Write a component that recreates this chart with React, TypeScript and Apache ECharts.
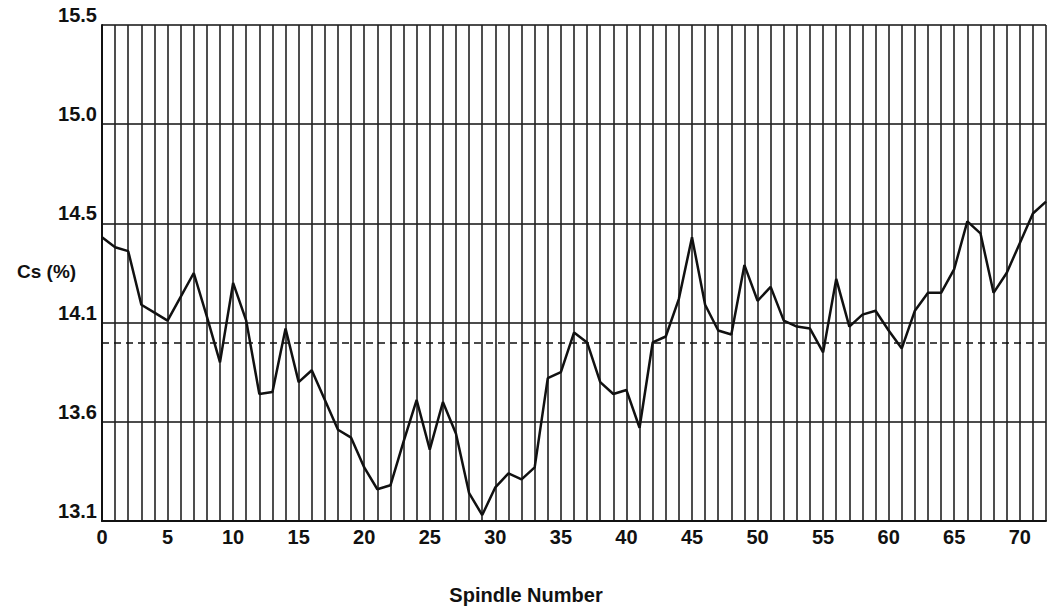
import React, { useEffect, useRef } from "react";
import * as echarts from "echarts";

// Cs (%) read for spindle numbers 0..72
const spindleNumbers: number[] = [
  0, 1, 2, 3, 4, 5, 6, 7, 8, 9, 10, 11, 12, 13, 14, 15, 16, 17, 18, 19, 20, 21, 22, 23, 24,
  25, 26, 27, 28, 29, 30, 31, 32, 33, 34, 35, 36, 37, 38, 39, 40, 41, 42, 43, 44, 45, 46, 47,
  48, 49, 50, 51, 52, 53, 54, 55, 56, 57, 58, 59, 60, 61, 62, 63, 64, 65, 66, 67, 68, 69, 70,
  71, 72,
];
const csValues: number[] = [
  14.43, 14.38, 14.36, 14.09, 14.05, 14.01, 14.13, 14.25, 14.03, 13.8, 14.2, 14.01, 13.64,
  13.65, 13.97, 13.7, 13.76, 13.61, 13.46, 13.42, 13.27, 13.16, 13.18, 13.4, 13.61, 13.36,
  13.6, 13.44, 13.14, 13.03, 13.17, 13.24, 13.21, 13.27, 13.72, 13.75, 13.95, 13.9, 13.7,
  13.64, 13.66, 13.47, 13.9, 13.93, 14.12, 14.43, 14.09, 13.96, 13.94, 14.29, 14.11, 14.18,
  14.01, 13.98, 13.97, 13.85, 14.22, 13.98, 14.04, 14.06, 13.96, 13.87, 14.06, 14.15, 14.15,
  14.27, 14.51, 14.45, 14.15, 14.25, 14.4, 14.55, 14.61,
];
const meanValue = 13.9;
const yTickValues: number[] = [13.0, 13.5, 14.0, 14.5, 15.0, 15.5];
const yTickLabels: string[] = ["13.1", "13.6", "14.1", "14.5", "15.0", "15.5"];

const FONT = "'Liberation Sans', Arial, Helvetica, sans-serif";

export default function App() {
  const ref = useRef<HTMLDivElement>(null);
  useEffect(() => {
    if (!ref.current) return;
    const chart = echarts.init(ref.current, undefined, { renderer: "svg" });
    const data = spindleNumbers.map((s, i) => [s, csValues[i]]);
    chart.setOption({
      animation: false,
      backgroundColor: "#ffffff",
      grid: { left: 102, right: 3, top: 25, bottom: 87, containLabel: false },
      xAxis: {
        type: "value",
        min: 0,
        max: 72,
        interval: 1,
        axisLine: { show: true, lineStyle: { color: "#111", width: 2 } },
        axisTick: { show: false },
        splitLine: { show: true, lineStyle: { color: "#222", width: 1.6 } },
        axisLabel: {
          color: "#111",
          fontSize: 20,
          fontWeight: "bold",
          fontFamily: FONT,
          margin: 6,
          showMaxLabel: false,
          formatter: (v: number) => (v % 5 === 0 ? String(v) : ""),
        },
      },
      yAxis: {
        type: "value",
        min: yTickValues[0],
        max: yTickValues[yTickValues.length - 1],
        interval: 0.5,
        axisLine: { show: true, lineStyle: { color: "#111", width: 2 } },
        axisTick: { show: false },
        splitLine: { show: true, lineStyle: { color: "#111", width: 1.6 } },
        axisLabel: {
          color: "#111",
          fontSize: 20,
          fontWeight: "bold",
          fontFamily: FONT,
          margin: 5,
          verticalAlign: "bottom",
          formatter: (v: number) => {
            const idx = yTickValues.findIndex((t) => Math.abs(t - v) < 1e-6);
            return idx >= 0 ? yTickLabels[idx] : "";
          },
        },
      },
      graphic: [
        {
          type: "text",
          x: 17,
          y: 271,
          style: {
            text: "Cs (%)",
            fontSize: 19,
            fontWeight: "bold",
            fontFamily: FONT,
            fill: "#111",
            textVerticalAlign: "middle",
            textAlign: "left",
          },
        },
        {
          type: "text",
          x: 526,
          y: 595,
          style: {
            text: "Spindle Number",
            fontSize: 20,
            fontWeight: "bold",
            fontFamily: FONT,
            fill: "#111",
            textVerticalAlign: "middle",
            textAlign: "center",
          },
        },
      ],
      series: [
        {
          type: "line",
          data,
          symbol: "none",
          lineStyle: { color: "#111", width: 2.5 },
          z: 5,
          markLine: {
            silent: true,
            symbol: ["none", "none"],
            label: { show: false },
            lineStyle: { color: "#111", width: 1.6, type: [7, 5] },
            data: [{ yAxis: meanValue }],
          },
        },
      ],
    });
    return () => chart.dispose();
  }, []);
  return (
    <div
      ref={ref}
      style={{ position: "absolute", left: 0, top: 0, width: 1049, height: 608 }}
    />
  );
}
